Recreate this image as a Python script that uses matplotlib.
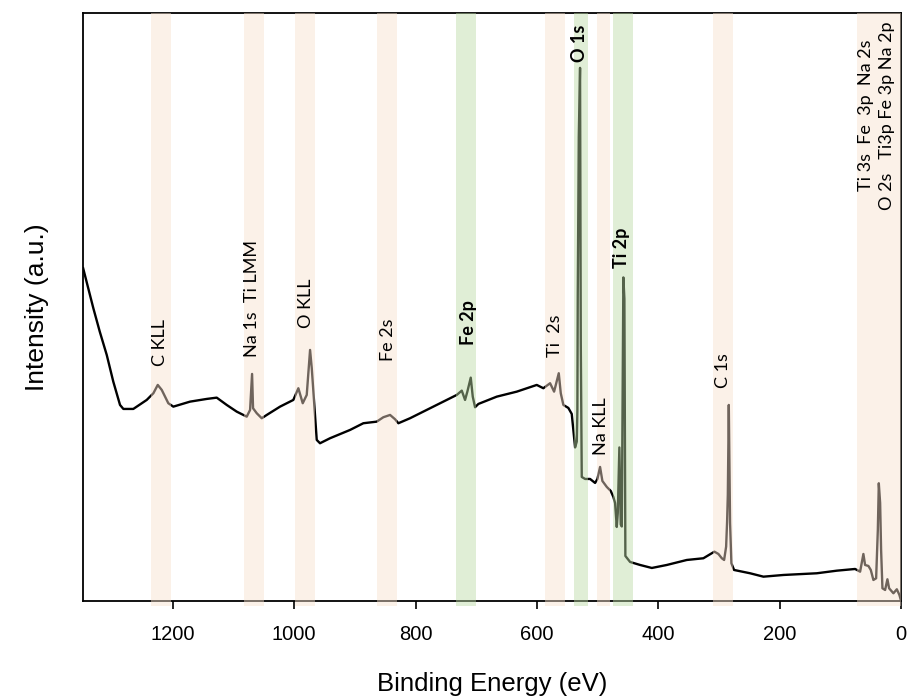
import matplotlib
matplotlib.use("Agg")
import matplotlib.pyplot as plt

# ---------------- data ----------------
binding_energy = [
    1348, 1331.2, 1320.6, 1309.1, 1298.3, 1287.2, 1281.7, 1265.3, 1243.2, 1232.2,
    1225.0, 1218.4, 1207.6, 1199.3, 1171.8, 1144.3, 1127.8, 1111.3, 1094.8, 1078.3,
    1072.8, 1069.5, 1067.9, 1061.8, 1053.6, 1045.3, 1023.4, 1001.5, 993.2, 986.0,
    979.4, 973.9, 971.1, 965.7, 962.9, 957.5, 941.0, 908.0, 886.1, 864.0,
    853.1, 842.0, 833.8, 828.3, 809.1, 776.1, 748.5, 732.1, 723.8, 718.4,
    714.6, 709.0, 705.7, 701.9, 696.4, 666.1, 633.1, 600.2, 589.3, 578.2,
    571.6, 563.9, 560.6, 556.3, 548.1, 542.5, 539.8, 537.0, 534.2, 533.2,
    532.6, 530.9, 528.8, 527.6, 526.0, 520.5, 512.3, 504.0, 500.2, 495.8,
    492.0, 484.7, 478.2, 473.9, 471.1, 468.3, 466.6, 464.0, 461.7, 460.0,
    457.4, 455.7, 454.1, 446.3, 429.8, 410.5, 385.8, 352.8, 325.5, 307.3,
    300.7, 295.1, 291.3, 288.0, 286.4, 285.2, 283.6, 281.5, 279.3, 274.9,
    248.5, 226.5, 193.6, 138.5, 105.5, 75.4, 67.1, 61.7, 58.9, 53.4,
    49.5, 45.2, 40.7, 37.9, 36.3, 34.1, 32.5, 30.3, 25.9, 22.1,
    19.3, 12.2, 6.6, 2.3, 0.0,
]
intensity = [
    332.7, 292.7, 269.3, 246, 219.3, 196, 192, 192, 201, 207.7,
    216, 211, 197.7, 194.3, 199.3, 202, 203.3, 196, 189.3, 184.3,
    191, 227, 192.7, 187.7, 182.7, 186, 194.3, 201, 212.7, 197.7,
    206, 251, 232.7, 186, 161, 157.7, 162.7, 171, 177.7, 179.3,
    183.7, 186, 181.7, 177.7, 182.7, 192.7, 201, 206, 210.3, 201,
    209.3, 223.3, 204.3, 193.7, 197, 204.3, 209.3, 216, 212.7, 217.7,
    209.3, 227.7, 207.7, 196, 193, 187, 171, 153.5, 159.4, 191,
    306, 464, 533, 258, 124, 122, 122, 118, 122, 134,
    120, 114, 110, 104, 98, 74, 88, 153.5, 76.5, 74.5,
    323.5, 302, 45, 39, 36, 33, 36, 41, 42.7, 49.3,
    47, 42.7, 41, 54.3, 79.3, 106, 196, 78, 37.7, 31,
    27.7, 24.3, 26, 27.7, 30.3, 32, 29.3, 47, 36, 35,
    31, 21, 22.7, 71, 117.7, 98, 51, 12.7, 11, 21.7,
    12.7, 7.7, 11.7, 6, 1,
]

# shaded regions (eV ranges) and their kind
band_lo = [1203, 1050, 966, 831, 700, 554, 516, 479, 441, 276, 0]
band_hi = [1236, 1083, 999, 864, 733, 587, 539, 501, 474, 309, 72.5]
band_kind = ["p", "p", "p", "p", "g", "p", "g", "p", "g", "p", "p"]

# peak labels: text, x (eV), y (a.u., bottom of text), bold
label_text = ["C KLL", "Na 1s  Ti LMM", "O KLL", "Fe 2s", "Fe 2p", "Ti  2s",
              "O 1s", "Na KLL", "Ti 2p", "C 1s",
              "Ti 3s  Fe  3p  Na 2s\nO 2s   Ti3p Fe 3p Na 2p"]
label_x = [1221, 1070, 980.5, 845, 713.5, 570, 530, 494.6, 460, 292.5, 40.2]
label_y = [235, 244, 273, 240, 256, 244, 539, 146, 333, 213, 391]
label_bold = [False, False, False, False, True, False, True, False, True, False, False]

x_ticks = [1200, 1000, 800, 600, 400, 200, 0]

# ---------------- figure ----------------
fig = plt.figure(figsize=(9.09, 6.98), dpi=100)
ax = fig.add_axes([0.091, 0.139, 0.9, 0.843])

ax.plot(binding_energy, intensity, color="black", lw=1.7, zorder=2)

band_colors = {"p": (0.973, 0.878, 0.809), "g": (0.738, 0.86, 0.651)}
for lo, hi, k in zip(band_lo, band_hi, band_kind):
    ax.axvspan(lo, hi, ymin=-0.008, ymax=1.0, color=band_colors[k], alpha=0.45,
               lw=0, zorder=5, clip_on=False)

label_font = ["Lato", "DejaVu Sans"]
for t, x, y, b in zip(label_text, label_x, label_y, label_bold):
    ax.text(x, y, t, rotation=90, ha="center", va="bottom", fontsize=13,
            family=label_font, fontweight="bold" if b else "normal",
            linespacing=1.45, zorder=6)

ax.set_xlim(1348.7, 0)
ax.set_ylim(0, 588.3)
ax.set_xticks(x_ticks)
ax.set_xticklabels([str(v) for v in x_ticks])
ax.set_yticks([])
ax.tick_params(axis="x", direction="out", length=5.5, width=1.2, pad=12,
               labelsize=14.5)
for lab in ax.get_xticklabels():
    lab.set_family(["Liberation Sans", "DejaVu Sans"])
for s in ax.spines.values():
    s.set_linewidth(1.3)

ax.set_xlabel("Binding Energy (eV)", fontsize=18.5,
              family=["Liberation Sans", "DejaVu Sans"], labelpad=20)
ax.set_ylabel("Intensity (a.u.)", fontsize=19,
              family=["Liberation Sans", "DejaVu Sans"], labelpad=24)

fig.savefig("out.png", dpi=100)
